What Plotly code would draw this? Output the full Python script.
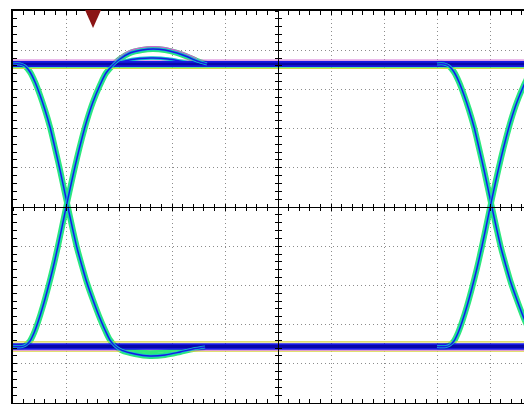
import plotly.graph_objects as go

# ---------------- data (axis units = screen divisions) ----------------
X_RANGE = [0, 9.792]
Y_RANGE = [-5, 5]
BIT_PERIOD = 8.0          # distance between the two eye crossings
HIGH_LEVEL = 3.648
LOW_LEVEL = -3.56
TRIGGER_POS = 1.51

# falling edge with undershoot ("0 after 1")
fall_t = [0.000, 0.132, 0.226, 0.321, 0.415, 0.509, 0.604, 0.698, 0.792, 0.887,
          1.019, 1.113, 1.208, 1.302, 1.396, 1.509, 1.623, 1.736, 1.830, 1.925,
          2.057, 2.302, 2.585, 2.868, 3.151, 3.396, 3.623]
fall_v = [3.648, 3.648, 3.597, 3.444, 3.189, 2.857, 2.474, 2.041, 1.505, 0.944,
          0.102, -0.485, -1.046, -1.505, -1.939, -2.372, -2.781, -3.138, -3.393, -3.546,
          -3.660, -3.750, -3.801, -3.776, -3.699, -3.622, -3.571]

# rising edge with overshoot ("1 after 0")
rise_t = [0.000, 0.170, 0.245, 0.321, 0.396, 0.472, 0.566, 0.660, 0.755, 0.849,
          0.925, 1.019, 1.113, 1.208, 1.302, 1.396, 1.509, 1.642, 1.755, 1.887,
          2.019, 2.208, 2.434, 2.642, 2.868, 3.094, 3.302, 3.472, 3.660]
rise_v = [-3.56, -3.56, -3.520, -3.418, -3.214, -2.934, -2.526, -2.066, -1.556, -0.995,
          -0.510, 0.102, 0.689, 1.250, 1.760, 2.219, 2.679, 3.112, 3.418, 3.622,
          3.776, 3.929, 4.005, 4.031, 4.005, 3.929, 3.827, 3.724, 3.648]

# smaller overshoot traces
rise2_t = [1.887, 2.113, 2.396, 2.642, 2.925, 3.245, 3.528]
rise2_v = [3.622, 3.725, 3.790, 3.802, 3.776, 3.700, 3.648]
# smaller undershoot traces
fall2_t = [1.925, 2.302, 2.585, 2.962, 3.434, 3.906]
fall2_v = [-3.546, -3.660, -3.690, -3.660, -3.600, -3.565]

# ---------------- style ----------------
BLUE = "#1818e0"
DKBLUE = "#0808a8"
GREEN = "#2ee87a"
CYAN = "#12c4cc"
MAGENTA = "#d060d0"
YELLOW = "#d8d440"

fig = go.Figure()


def line(x, y, color, width, shape="spline"):
    fig.add_trace(go.Scatter(x=x, y=y, mode="lines",
                             line=dict(color=color, width=width, shape=shape, smoothing=0.9),
                             hoverinfo="skip", showlegend=False))


right_fall_t = [t + BIT_PERIOD for t in fall_t]
right_rise_t = [t + BIT_PERIOD for t in rise_t]
edges = [(fall_t, fall_v), (rise_t, rise_v), (right_fall_t, fall_v), (right_rise_t, rise_v)]

# outer glow of edges
for tt, vv in edges:
    line(tt, vv, GREEN, 6)
line(rise_t[19:-1], [v + 0.06 for v in rise_v[19:-1]], MAGENTA, 1.2)

# rails
full = [X_RANGE[0], 10.5]
line(full, [HIGH_LEVEL + 0.10] * 2, MAGENTA, 1, "linear")
line(full, [HIGH_LEVEL - 0.11] * 2, YELLOW, 1.2, "linear")
line(full, [HIGH_LEVEL - 0.08] * 2, GREEN, 1.2, "linear")
line(full, [LOW_LEVEL + 0.12] * 2, YELLOW, 1.2, "linear")
line(full, [LOW_LEVEL - 0.12] * 2, YELLOW, 1.2, "linear")
line(full, [LOW_LEVEL - 0.09] * 2, MAGENTA, 1, "linear")

line(rise2_t, rise2_v, CYAN, 3.5)
line(rise2_t, rise2_v, BLUE, 1.5)
line(fall2_t, fall2_v, GREEN, 3)

line(full, [HIGH_LEVEL] * 2, BLUE, 6, "linear")
line(full, [HIGH_LEVEL] * 2, DKBLUE, 2.5, "linear")
line(full, [LOW_LEVEL] * 2, BLUE, 6.5, "linear")
line(full, [LOW_LEVEL] * 2, DKBLUE, 3, "linear")

# inner cores of edges
for tt, vv in edges:
    line(tt, vv, CYAN, 3)
    line(tt, vv, BLUE, 1.4)

# trigger marker
fig.add_shape(type="path", xref="x", yref="paper", xsizemode="pixel", ysizemode="pixel",
              xanchor=TRIGGER_POS, yanchor=1, path="M-8,1 L8,1 L0,-17 Z",
              fillcolor="#8b1414", line=dict(width=0))

# dummy traces to register centre axes
for xa, ya in [("x2", "y"), ("x3", "y"), ("x", "y2"), ("x", "y3")]:
    fig.add_trace(go.Scatter(x=[None], y=[None], xaxis=xa, yaxis=ya, showlegend=False,
                             hoverinfo="skip"))

grid = dict(showgrid=True, gridcolor="#8c8c8c", griddash="1px,3px", gridwidth=1,
            zeroline=False, showticklabels=False, automargin=False)
# the page body adds an 8 px offset, so the figure is sized to fill the rest of the window
fig.update_layout(
    width=524, height=396,
    margin=dict(l=5, r=0, t=3, b=1, pad=0, autoexpand=False),
    paper_bgcolor="white", plot_bgcolor="white",
    showlegend=False,
    xaxis=dict(range=X_RANGE, tick0=0, dtick=1, showline=True, linecolor="black", linewidth=1.5,
               mirror="ticks", ticks="inside", ticklen=4, tickcolor="black",
               minor=dict(ticks="inside", dtick=0.2, ticklen=4, tickcolor="black", showgrid=False),
               **grid),
    yaxis=dict(range=Y_RANGE, tick0=-5, dtick=1, showline=True, linecolor="black", linewidth=1.5,
               mirror=False, ticks="inside", ticklen=4, tickcolor="black",
               minor=dict(ticks="inside", dtick=0.2, ticklen=4, tickcolor="black", showgrid=False),
               **grid),
)
centre_x = 5.0 / X_RANGE[1]
for name, side_ticks in [("xaxis2", "inside"), ("xaxis3", "outside")]:
    fig.layout[name] = dict(range=X_RANGE, overlaying="x", anchor="free", position=0.5,
                            showline=True, linecolor="black", linewidth=1.2, showgrid=False,
                            zeroline=False, showticklabels=False, tick0=0, dtick=1,
                            automargin=False,
                            ticks=side_ticks, ticklen=3, tickcolor="black",
                            minor=dict(ticks=side_ticks, dtick=0.2, ticklen=3, tickcolor="black"))
for name, side_ticks in [("yaxis2", "inside"), ("yaxis3", "outside")]:
    fig.layout[name] = dict(range=Y_RANGE, overlaying="y", anchor="free", position=centre_x,
                            showline=True, linecolor="black", linewidth=1.2, showgrid=False,
                            zeroline=False, showticklabels=False, tick0=-5, dtick=1,
                            automargin=False, autoshift=False,
                            ticks=side_ticks, ticklen=3, tickcolor="black",
                            minor=dict(ticks=side_ticks, dtick=0.2, ticklen=3, tickcolor="black"))

fig.write_html("out.html")
